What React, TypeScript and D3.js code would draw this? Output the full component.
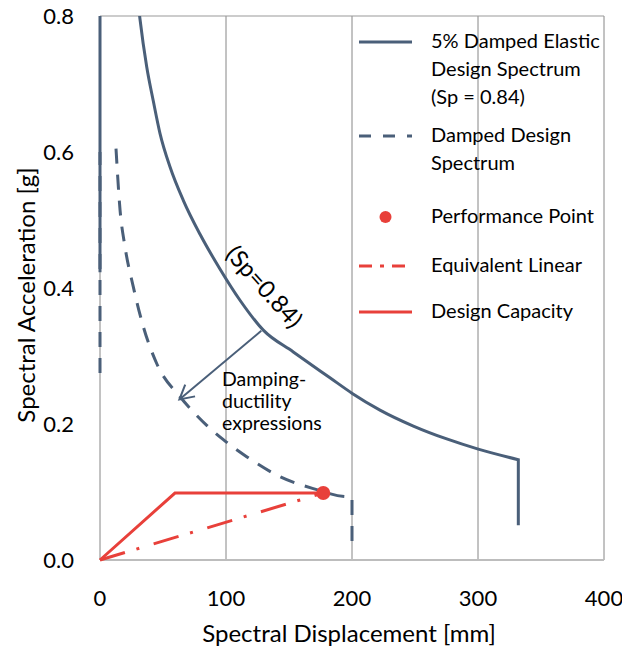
import React from "react";
import * as d3 from "d3";

// ---------- data ----------
const xTicks = [0, 100, 200, 300, 400];
const yTicks = [0, 0.2, 0.4, 0.6, 0.8];

// 5% damped elastic design spectrum (Sp = 0.84), ADRS [Sd mm, Sa g]
const elasticSd = [0, 0, 28, 31.7, 37.1, 42.3, 47.6, 55.6, 66.1, 79.4, 95.2, 111.1, 129.6, 153.4, 182.5, 200.2, 222.2, 248.7, 275.2, 300.2, 332, 332];
const elasticSa = [0.423, 1.0, 0.86, 0.796, 0.725, 0.675, 0.6275, 0.578, 0.529, 0.479, 0.428, 0.382, 0.338, 0.306, 0.268, 0.245, 0.2205, 0.197, 0.178, 0.163, 0.1475, 0.051];

// damped design spectrum (NaN = break in the line)
const dampedSd = [0, 0, NaN, 12.7, 15.9, 19.8, 26.4, 34.4, 45, 63.5, 74, 84.7, 97.9, 116.4, 142.9, 169.3, 197, 200, 200];
const dampedSa = [0.275, 0.6, NaN, 0.605, 0.515, 0.461, 0.402, 0.343, 0.289, 0.24, 0.218, 0.198, 0.177, 0.152, 0.1225, 0.105, 0.093, 0.093, 0.026];

// design capacity curve
const capacitySd = [0, 59.5, 177.2];
const capacitySa = [0, 0.0985, 0.0985];

// performance point
const perfSd = [177.2];
const perfSa = [0.0985];

// equivalent linear
const eqLinSd = [0, 177.2];
const eqLinSa = [0, 0.0985];

// damping-ductility arrow (from, to)
const arrowSd = [128, 63];
const arrowSa = [0.337, 0.236];

const legendLabels = [
  ["5% Damped Elastic", "Design Spectrum", "(Sp = 0.84)"],
  ["Damped Design", "Spectrum"],
  ["Performance Point"],
  ["Equivalent Linear"],
  ["Design Capacity"],
];

const BLUE = "#4a5f79";
const RED = "#e8403a";
const FONT = "Lato, 'Open Sans', sans-serif";

type P = [number, number];

export default function App() {
  const W = 622, H = 652;
  const x = d3.scaleLinear().domain([0, 400]).range([100, 604]);
  const y = d3.scaleLinear().domain([0, 0.8]).range([560, 16]);

  const mk = (xs: number[], ys: number[]) => xs.map((v, i) => [v, ys[i]] as P);

  const smooth = d3.line<P>().x((d) => x(d[0])).y((d) => y(d[1])).curve(d3.curveMonotoneX);
  const straight = d3.line<P>().x((d) => x(d[0])).y((d) => y(d[1]));

  // smooth where Sd increases, straight where Sd is constant (vertical legs); NaN breaks
  const spectrumPath = (pts: P[]) => {
    const groups: P[][] = [[]];
    pts.forEach((p) => {
      if (isNaN(p[0])) groups.push([]);
      else groups[groups.length - 1].push(p);
    });
    let d = "";
    groups.filter((g) => g.length > 1).forEach((g) => {
      let gd = "";
      let run: P[] = [g[0]];
      const flush = () => {
        if (run.length > 1) {
          const s = smooth(run) || "";
          gd += gd ? "L" + s.slice(1) : s;
        }
      };
      for (let i = 1; i < g.length; i++) {
        if (g[i][0] === g[i - 1][0]) {
          flush();
          const s = straight([g[i - 1], g[i]]) || "";
          gd += gd ? "L" + s.slice(1) : s;
          run = [g[i]];
        } else run.push(g[i]);
      }
      flush();
      d += gd;
    });
    return d;
  };

  const elastic = mk(elasticSd, elasticSa);
  const damped = mk(dampedSd, dampedSa);
  const capacity = mk(capacitySd, capacitySa);
  const eqLin = mk(eqLinSd, eqLinSa);

  const ax0 = x(arrowSd[0]), ay0 = y(arrowSa[0]);
  const ax1 = x(arrowSd[1]), ay1 = y(arrowSa[1]);
  const ang = Math.atan2(ay1 - ay0, ax1 - ax0);
  const hl = 16, ha = 0.5;
  const head = `M${ax1 - hl * Math.cos(ang - ha)},${ay1 - hl * Math.sin(ang - ha)} L${ax1},${ay1} L${ax1 - hl * Math.cos(ang + ha)},${ay1 - hl * Math.sin(ang + ha)}`;

  const legendX = 359, legendX2 = 412, textX = 431;
  const rowY = [42, 136, 217, 266, 312];
  const lineH = 28;

  return (
    <svg width={W} height={H} style={{ position: "absolute", left: 0, top: 0, fontFamily: FONT }}>
      <rect width={W} height={H} fill="#fff" />
      <defs>
        <clipPath id="plot">
          <rect x={98} y={16} width={510} height={546} />
        </clipPath>
      </defs>
      {/* gridlines */}
      {xTicks.map((t) => (
        <line key={t} x1={x(t)} x2={x(t)} y1={y(0.8)} y2={y(0)} stroke="#868686" strokeWidth={1} />
      ))}
      <line x1={x(0)} x2={x(400)} y1={y(0.8)} y2={y(0.8)} stroke="#9a9a9a" strokeWidth={1.2} />
      <line x1={x(0)} x2={x(400)} y1={y(0)} y2={y(0)} stroke="#bdbdbd" strokeWidth={2} />

      {/* tick labels */}
      {yTicks.map((t) => (
        <text key={t} x={74} y={y(t) + 8} textAnchor="end" fontSize={22} fill="#000">
          {d3.format(".1f")(t)}
        </text>
      ))}
      {xTicks.map((t) => (
        <text key={t} x={x(t)} y={606} textAnchor="middle" fontSize={22} fill="#000">
          {t}
        </text>
      ))}
      <text x={349} y={642} textAnchor="middle" fontSize={24} fill="#000">
        Spectral Displacement [mm]
      </text>
      <text transform={`translate(35,295) rotate(-90)`} textAnchor="middle" fontSize={24} fill="#000">
        Spectral Acceleration [g]
      </text>

      <g clipPath="url(#plot)">
        <path d={spectrumPath(damped)} fill="none" stroke={BLUE} strokeWidth={3} strokeDasharray="15,11" />
        <path d={spectrumPath(elastic)} fill="none" stroke={BLUE} strokeWidth={3} strokeLinejoin="miter" />
        <path d={straight(eqLin) || ""} fill="none" stroke={RED} strokeWidth={3} strokeDasharray="26,12,3,15" />
        <path d={straight(capacity) || ""} fill="none" stroke={RED} strokeWidth={3} />
        {perfSd.map((v, i) => (
          <circle key={i} cx={x(v)} cy={y(perfSa[i])} r={7} fill={RED} />
        ))}
      </g>

      {/* annotation arrow */}
      <line x1={ax0} y1={ay0} x2={ax1} y2={ay1} stroke={BLUE} strokeWidth={2} />
      <path d={head} fill="none" stroke={BLUE} strokeWidth={2} />
      <text transform={`translate(264,287) rotate(48)`} textAnchor="middle" fontSize={24} fill="#000" dy={8}>
        (Sp=0.84)
      </text>
      <text x={222} y={386} fontSize={19.5} fill="#000">Damping-</text>
      <text x={222} y={408} fontSize={19.5} fill="#000">ductility</text>
      <text x={222} y={430} fontSize={19.5} fill="#000">expressions</text>

      {/* legend */}
      <line x1={legendX} x2={legendX2} y1={rowY[0]} y2={rowY[0]} stroke={BLUE} strokeWidth={3} />
      <line x1={legendX} x2={legendX2} y1={rowY[1]} y2={rowY[1]} stroke={BLUE} strokeWidth={3} strokeDasharray="12,12" />
      <circle cx={(legendX + legendX2) / 2} cy={rowY[2]} r={6} fill={RED} />
      <line x1={legendX} x2={legendX2} y1={rowY[3]} y2={rowY[3]} stroke={RED} strokeWidth={3} strokeDasharray="13,8,4,8" />
      <line x1={legendX} x2={legendX2} y1={rowY[4]} y2={rowY[4]} stroke={RED} strokeWidth={3} />
      {legendLabels.map((lines, i) => (
        <text key={i} x={textX} y={rowY[i] + 6} fontSize={20} fill="#000">
          {lines.map((l, j) => (
            <tspan key={j} x={textX} dy={j === 0 ? 0 : lineH}>
              {l}
            </tspan>
          ))}
        </text>
      ))}
    </svg>
  );
}
